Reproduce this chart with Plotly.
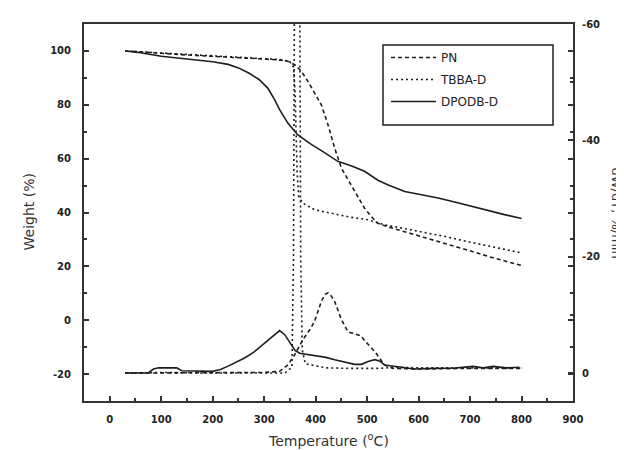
import plotly.graph_objects as go

# ---- TG curves (left axis, Weight %) ----
pn_tg_t = [30, 60, 100, 150, 200, 250, 300, 330, 346, 360, 372, 385, 398, 411, 424, 437, 450, 463, 482, 495, 508, 521, 540, 560, 590, 618, 650, 683, 710, 735, 765, 793, 800]
pn_tg_w = [100, 99.6, 99, 98.5, 98, 97.6, 97.0, 96.6, 96.2, 94.8, 92.5, 88.7, 84.5, 80, 72.6, 63.9, 56.5, 52.2, 46, 41.6, 38.5, 36.0, 34.7, 33.6, 32.0, 30.5, 28.7, 26.8, 25.2, 23.7, 22.2, 20.6, 20.3]

tbba_tg_t = [30, 80, 150, 200, 250, 300, 330, 350, 357, 360, 362, 364, 367, 375, 398, 430, 469, 502, 534, 560, 586, 620, 651, 690, 722, 760, 793, 800]
tbba_tg_w = [100, 99.5, 98.8, 98.3, 97.8, 97.2, 96.8, 96, 94, 85, 70, 55, 46, 43.5, 41, 39.8, 38.2, 37.3, 35.4, 34.5, 33.6, 32.3, 31.1, 29.4, 28.0, 26.6, 25.3, 25.1]

dpodb_tg_t = [30, 60, 100, 150, 200, 230, 250, 270, 290, 307, 320, 330, 346, 365, 390, 415, 443, 470, 495, 521, 540, 573, 600, 638, 670, 702, 735, 767, 800]
dpodb_tg_w = [100, 99.3, 98.0, 97.0, 96.0, 95.0, 93.7, 91.8, 89.4, 86.2, 82, 78.2, 73.2, 68.9, 65.5, 62.5, 59.0, 57.3, 55.3, 52.0, 50.3, 47.8, 46.8, 45.4, 43.9, 42.3, 40.8, 39.2, 37.8]

# ---- DTG curves (right axis, dW/dT %/min) ----
pn_dtg_t = [30, 100, 200, 300, 330, 346, 359, 375, 390, 398, 411, 418, 424, 430, 437, 450, 463, 476, 488, 495, 505, 515, 524, 534, 550, 600, 700, 800]
pn_dtg_v = [0, 0, 0, -0.1, -0.3, -1.4, -3.1, -5.7, -7.6, -8.9, -12.3, -13.5, -13.8, -13.3, -12.3, -9.2, -7.1, -6.8, -6.4, -5.6, -4.6, -3.7, -2.6, -1.4, -0.8, -0.7, -0.8, -0.8]

tbba_dtg_t = [30, 100, 200, 300, 340, 354, 357, 359, 369, 371, 374, 380, 390, 420, 470, 520, 560, 600, 700, 800]
tbba_dtg_v = [0, -0.1, 0, 0, 0, -1, -20, -70, -70, -20, -4, -1.6, -1.4, -0.9, -0.8, -0.8, -1.0, -0.9, -0.9, -0.9]

dpodb_dtg_t = [30, 74, 85, 95, 130, 140, 200, 215, 229, 245, 262, 280, 294, 307, 320, 330, 340, 352, 360, 369, 385, 398, 420, 437, 456, 476, 489, 502, 515, 524, 534, 560, 592, 630, 670, 706, 725, 745, 770, 796]
dpodb_dtg_v = [0, 0, -0.7, -0.9, -0.9, -0.4, -0.3, -0.6, -1.15, -1.8, -2.6, -3.6, -4.6, -5.6, -6.6, -7.3, -6.6, -4.9, -3.9, -3.4, -3.2, -3.1, -2.7, -2.3, -1.9, -1.5, -1.5, -2.0, -2.3, -2.1, -1.4, -1.1, -0.7, -0.8, -0.86, -1.15, -0.9, -1.15, -0.9, -1.0]

x_ticks = [0, 100, 200, 300, 400, 500, 600, 700, 800, 900]
y_ticks = [-20, 0, 20, 40, 60, 80, 100]
y2_ticks = [-60, -40, -20, 0]

LINE = "#1e1e1e"
AX = "#333333"
styles = {
    "PN": dict(color=LINE, width=1.6, dash="4px,3px"),
    "TBBA-D": dict(color=LINE, width=1.6, dash="2px,3px"),
    "DPODB-D": dict(color=LINE, width=1.6),
}

fig = go.Figure()
series = [
    ("PN", pn_tg_t, pn_tg_w, pn_dtg_t, pn_dtg_v),
    ("TBBA-D", tbba_tg_t, tbba_tg_w, tbba_dtg_t, tbba_dtg_v),
    ("DPODB-D", dpodb_tg_t, dpodb_tg_w, dpodb_dtg_t, dpodb_dtg_v),
]
for name, tt, ww, dt, dv in series:
    fig.add_trace(go.Scatter(x=tt, y=ww, mode="lines", name=name, line=styles[name],
                             legendgroup=name, showlegend=True))
    fig.add_trace(go.Scatter(x=dt, y=dv, mode="lines", name=name, line=styles[name],
                             legendgroup=name, showlegend=False, yaxis="y2"))

tickfont = dict(family="DejaVu Sans", size=10, color="#222", weight="bold")

# plot area in pixels: left 76, right 565, top 16, bottom 393
PW, PH = 489, 377
fig.update_layout(
    width=624, height=450,
    margin=dict(l=76, r=59, t=16, b=57, autoexpand=False),
    paper_bgcolor="white", plot_bgcolor="white",
    showlegend=True,
    legend=dict(x=(378 - 76) / PW, y=(393 - 35) / PH, xanchor="left", yanchor="top",
                borderwidth=0, bgcolor="rgba(0,0,0,0)",
                font=dict(family="DejaVu Sans", size=12, color="#222"),
                itemwidth=45, tracegroupgap=3),
    xaxis=dict(range=[-50, 900], tickvals=x_ticks, ticktext=[str(v) for v in x_ticks],
               ticks="inside", ticklen=5, tickwidth=1.5, tickcolor=AX,
               minor=dict(dtick=50, ticks="inside", ticklen=3, tickcolor=AX),
               showline=True, linecolor=AX, linewidth=2, mirror=True,
               showgrid=False, zeroline=False, tickfont=tickfont, ticklabelstandoff=8),
    yaxis=dict(range=[-30, 110], tickvals=y_ticks, ticktext=[str(v) for v in y_ticks],
               ticks="inside", ticklen=5, tickwidth=1.5, tickcolor=AX,
               minor=dict(dtick=10, ticks="inside", ticklen=3, tickcolor=AX),
               showline=True, linecolor=AX, linewidth=2, mirror="ticks",
               showgrid=False, zeroline=False, tickfont=tickfont, ticklabelstandoff=9),
    yaxis2=dict(range=[4.8, -60], overlaying="y", side="right",
                tickvals=y2_ticks, ticktext=[str(v) for v in y2_ticks],
                ticks="inside", ticklen=5, tickwidth=1.5, tickcolor=AX,
                minor=dict(dtick=10, ticks="inside", ticklen=3, tickcolor=AX),
                showline=False, showgrid=False, zeroline=False,
                tickfont=tickfont, ticklabelstandoff=8),
)

# legend frame
fig.add_shape(type="rect", xref="paper", yref="paper",
              x0=(375 - 76) / PW, x1=(545 - 76) / PW,
              y0=(393 - 117) / PH, y1=(393 - 37) / PH,
              line=dict(color="#222", width=1.5), fillcolor="rgba(0,0,0,0)", layer="above")

title_font = dict(family="DejaVu Sans", size=14, color="#333")
fig.add_annotation(text="Weight (%)", xref="paper", yref="paper", x=0, y=0.5,
                   xanchor="center", yanchor="middle", xshift=-56, textangle=-90,
                   showarrow=False, font=title_font)
fig.add_annotation(text="dW/dT, %/min", xref="paper", yref="paper", x=1, y=0.5,
                   xanchor="center", yanchor="middle", xshift=43, textangle=90,
                   showarrow=False, font=dict(family="DejaVu Sans", size=13, color="#333"))
fig.add_annotation(text="Temperature (<sup>o</sup>C)", xref="paper", yref="paper", x=0.5, y=0,
                   xanchor="center", yanchor="middle", yshift=-39,
                   showarrow=False, font=title_font)

fig.write_html("out.html")
